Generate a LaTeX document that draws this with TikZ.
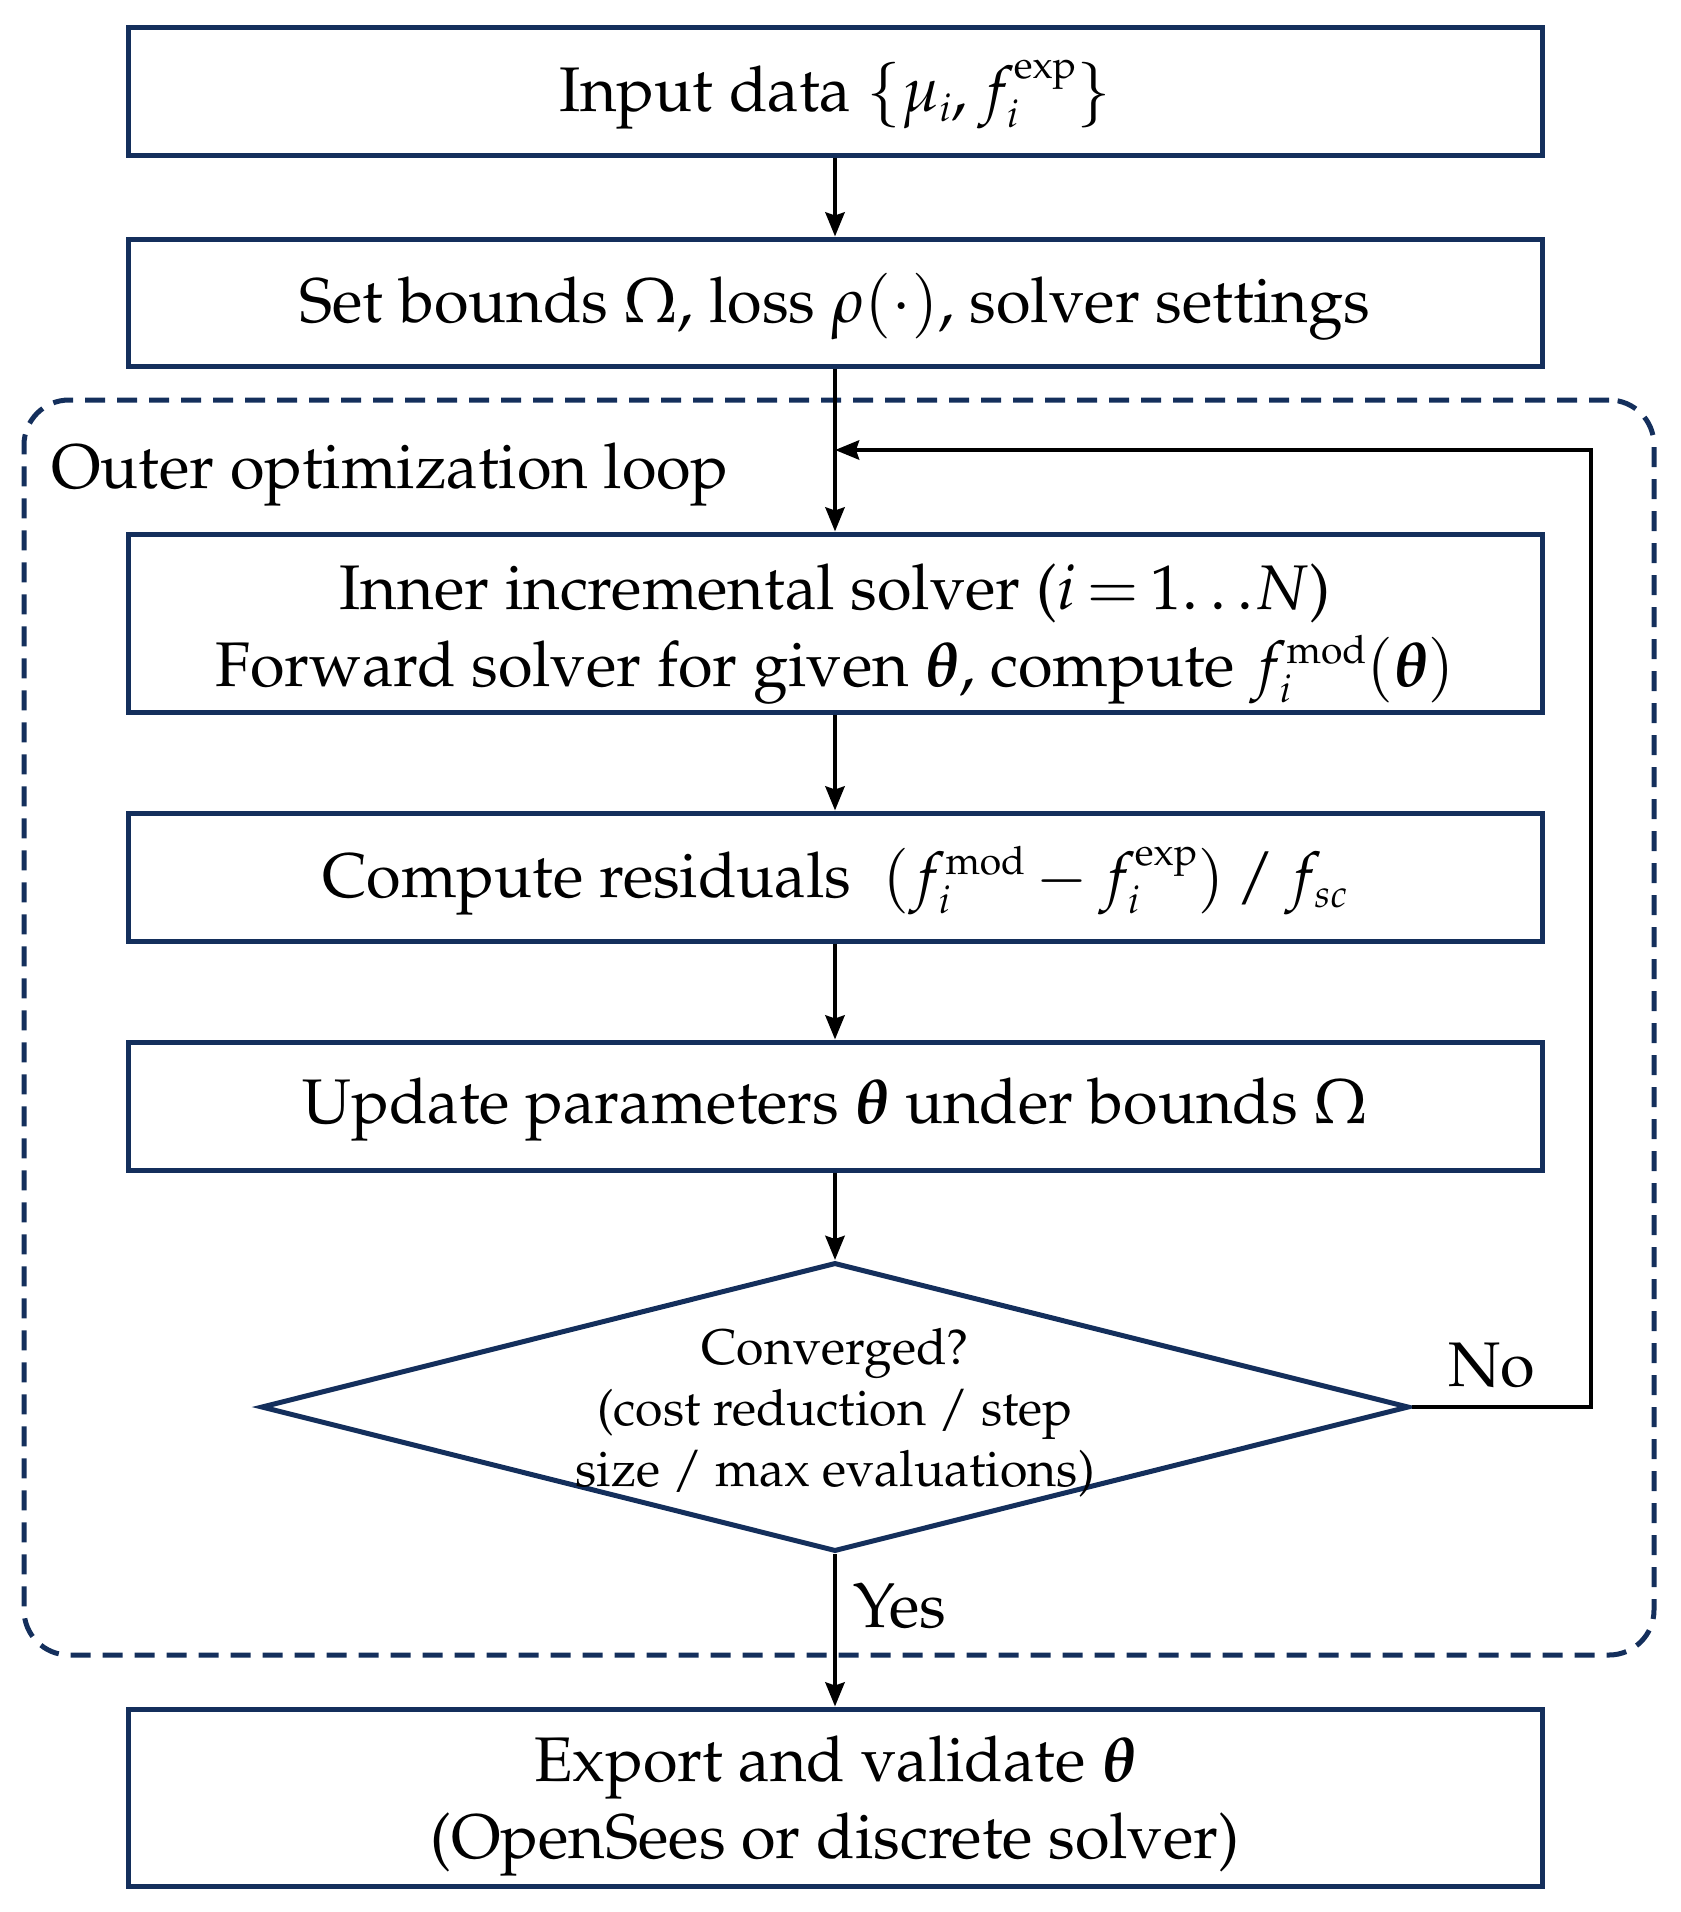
\documentclass[tikz,border=0pt]{standalone}
\usepackage[T1]{fontenc}
\usepackage{amsmath}
\usepackage{mathpazo}
\usepackage{bm}
\DeclareMathSizes{63}{63}{39}{30}
\DeclareMathSizes{50}{50}{31}{24}
\usetikzlibrary{shapes.geometric,arrows.meta}
\definecolor{navy}{HTML}{142F5C}
\tikzset{
  boxtxt/.style={font=\fontsize{63}{77}\selectfont},
  procbox/.style={draw=navy, line width=5pt, minimum width=1414pt, inner sep=0pt},
  btxt/.style={boxtxt, align=center, inner sep=0pt},
  decision/.style={draw=navy, line width=5pt, diamond, minimum width=1148pt, minimum height=289pt, inner sep=0pt},
  arr/.style={draw=black, line width=4.5pt, -{Stealth[length=24pt,width=19pt,inset=3pt]}},
  loopframe/.style={draw=navy, line width=5pt, dash pattern=on 20pt off 12pt, rounded corners=45pt, minimum width=1630pt, minimum height=1255pt, inner sep=0pt},
  lbl/.style={boxtxt, inner sep=0pt}
}
\begin{document}
\begin{tikzpicture}[x=1pt,y=-1pt]
\useasboundingbox (0,0) rectangle (1681,1912);
\node[loopframe] (outer) at (839,1027.5) {};
\node[lbl, anchor=base west] (outerlbl) at (51,488) {Outer optimization loop};

\node[procbox, minimum height=128pt] (b1) at (835,91) {};
\node[btxt] (b1t) at ([yshift=-4pt]b1.center) {Input data $\{\mu_i, f_i^{\mathrm{exp}}\}$};
\node[procbox, minimum height=127pt] (b2) at (835,302.5) {};
\node[btxt] (b2t) at ([yshift=-4pt]b2.center) {Set bounds $\Omega$, loss $\rho(\cdot)$, solver settings};
\node[procbox, minimum height=178pt] (b3) at (835,623) {};
\node[btxt] (b3t) at ([yshift=-11pt]b3.center) {Inner incremental solver ($i\,{=}\,1{\ldots}N$)\\Forward solver for given $\bm{\theta}$, compute $f_i^{\mathrm{mod}}(\bm{\theta})$};
\node[procbox, minimum height=128pt] (b4) at (835,877) {};
\node[btxt] (b4t) at ([yshift=-4pt]b4.center) {Compute residuals\ \ $(f_i^{\mathrm{mod}}\,{-}\,f_i^{\mathrm{exp}})\,/\,f_{sc}$};
\node[procbox, minimum height=128pt] (b5) at (835,1106) {};
\node[btxt] (b5t) at ([yshift=-4pt]b5.center) {Update parameters $\bm{\theta}$ under bounds $\Omega$};
\node[decision] (dia) at (835,1407) {};
\node[align=center, inner sep=0pt, font=\fontsize{50}{61}\selectfont] (diatxt) at ([yshift=-6pt]dia.center) {Converged?\\(cost reduction / step\\size / max evaluations)};
\node[procbox, minimum height=177pt] (b6) at (835,1797.5) {};
\node[btxt] (b6t) at ([yshift=-9pt]b6.center) {Export and validate $\bm{\theta}$\\(OpenSees or discrete solver)};

\coordinate (ne) at (1591,450);
\coordinate (join) at (835,450);

\draw[arr] (b1) -- (b2);
\draw[arr] (b2) -- (b3);
\draw[arr] (b3) -- (b4);
\draw[arr] (b4) -- (b5);
\draw[arr] (b5) -- (dia);
\draw[arr] (dia) -- (b6);
\draw[arr] (dia.east) -| (ne) -- (join);

\node[lbl, anchor=base west] (no) at (1448,1386) {No};
\node[lbl, anchor=base west] (yes) at (853,1627) {Yes};
\end{tikzpicture}
\end{document}
